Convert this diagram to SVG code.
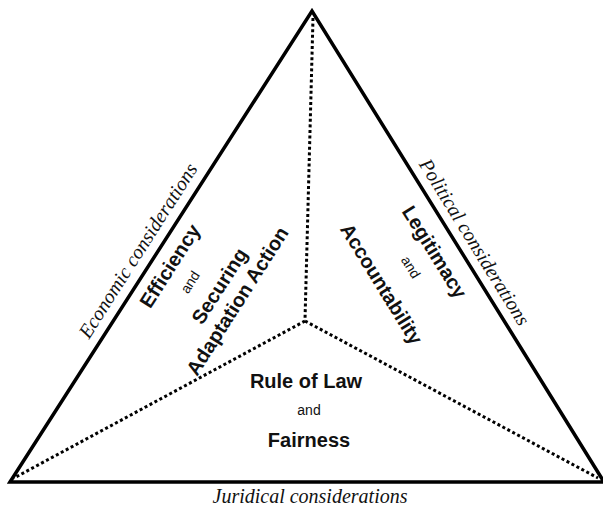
<svg xmlns="http://www.w3.org/2000/svg" width="603" height="509" viewBox="0 0 603 509">
<style>
.edge{fill:none;stroke:#000;stroke-width:3.5;stroke-linejoin:miter}
.dot{fill:none;stroke:#000;stroke-width:3;stroke-dasharray:3 2.6}
.cons{font-family:"Liberation Serif",serif;font-style:italic;font-size:20px;fill:#111;text-anchor:middle}
.lbl{font-family:"Liberation Sans",Arial,sans-serif;font-weight:bold;font-size:20px;fill:#111;text-anchor:middle}
.and{font-family:"Liberation Sans",Arial,sans-serif;font-size:14px;fill:#111;text-anchor:middle}
</style>
<rect width="603" height="509" fill="#fff"/>
<g id="connectors">
<polygon class="edge" points="10,482 312,11 604,482"/>
<line class="dot" x1="313" y1="18" x2="305" y2="320"/>
<line class="dot" x1="305" y1="321" x2="14" y2="478"/>
<line class="dot" x1="305" y1="321" x2="598" y2="478"/>
</g>
<g id="economic">
<text class="cons" transform="translate(138.5,251) rotate(-57.45)" y="6">Economic considerations</text>
<text class="lbl" transform="translate(171.5,267) rotate(-57.45)" y="5">Efficiency</text>
<text class="and" transform="translate(190,282) rotate(-57.45)" y="5">and</text>
<text class="lbl" transform="translate(221,287) rotate(-57.45)" y="5">Securing</text>
<text class="lbl" transform="translate(239,302) rotate(-57.45)" y="5">Adaptation Action</text>
</g>
<g id="political">
<text class="cons" transform="translate(474,242.5) rotate(58.3)" y="6">Political considerations</text>
<text class="lbl" transform="translate(433,253) rotate(58.3)" y="5">Legitimacy</text>
<text class="and" transform="translate(411,267) rotate(58.3)" y="5">and</text>
<text class="lbl" transform="translate(380,285) rotate(58.3)" y="5">Accountability</text>
</g>
<g id="juridical">
<text class="lbl" x="306" y="388">Rule of Law</text>
<text class="and" x="309" y="415">and</text>
<text class="lbl" x="309" y="447">Fairness</text>
<text class="cons" x="310" y="503">Juridical considerations</text>
</g>
</svg>
